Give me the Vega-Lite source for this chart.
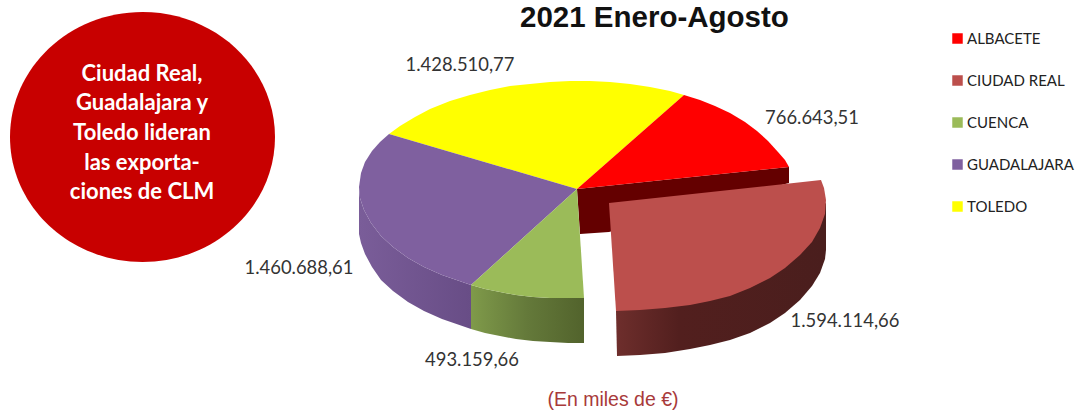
{
"$schema":"https://vega.github.io/schema/vega-lite/v6.json",
"width":1080,"height":410,"padding":0,"autosize":{"type":"none"},
"background":"white",
"view":{"stroke":null},
"config":{"view":{"stroke":null}},
"title":{"text":"2021 Enero-Agosto","anchor":"start","frame":"group","orient":"top","offset":-33,"dx":520,"font":"Liberation Sans","fontWeight":"bold","fontSize":29.5,"color":"#111111"},
"datasets":{
"pie":[
{"pieza":"lado_g","i":1,"x":359,"y":187},{"pieza":"lado_g","i":2,"x":360,"y":198},{"pieza":"lado_g","i":3,"x":364,"y":210},{"pieza":"lado_g","i":4,"x":371,"y":223},{"pieza":"lado_g","i":5,"x":381,"y":236},{"pieza":"lado_g","i":6,"x":393,"y":247},{"pieza":"lado_g","i":7,"x":408,"y":258},{"pieza":"lado_g","i":8,"x":424,"y":267},{"pieza":"lado_g","i":9,"x":442,"y":275},{"pieza":"lado_g","i":10,"x":471,"y":285},{"pieza":"lado_g","i":11,"x":471,"y":329},{"pieza":"lado_g","i":12,"x":442,"y":319},{"pieza":"lado_g","i":13,"x":424,"y":311},{"pieza":"lado_g","i":14,"x":408,"y":302},{"pieza":"lado_g","i":15,"x":393,"y":291},{"pieza":"lado_g","i":16,"x":381,"y":280},{"pieza":"lado_g","i":17,"x":372,"y":267},{"pieza":"lado_g","i":18,"x":365,"y":254},{"pieza":"lado_g","i":19,"x":361,"y":243},{"pieza":"lado_g","i":20,"x":359,"y":234},
{"pieza":"lado_c","i":1,"x":471,"y":285},{"pieza":"lado_c","i":2,"x":485,"y":289},{"pieza":"lado_c","i":3,"x":500,"y":292},{"pieza":"lado_c","i":4,"x":516,"y":295},{"pieza":"lado_c","i":5,"x":533,"y":297},{"pieza":"lado_c","i":6,"x":550,"y":298},{"pieza":"lado_c","i":7,"x":584,"y":298},{"pieza":"lado_c","i":8,"x":584,"y":343},{"pieza":"lado_c","i":9,"x":568,"y":343},{"pieza":"lado_c","i":10,"x":550,"y":342},{"pieza":"lado_c","i":11,"x":533,"y":341},{"pieza":"lado_c","i":12,"x":516,"y":339},{"pieza":"lado_c","i":13,"x":500,"y":336},{"pieza":"lado_c","i":14,"x":485,"y":333},{"pieza":"lado_c","i":15,"x":471,"y":329},
{"pieza":"lado_a","i":1,"x":577,"y":189},{"pieza":"lado_a","i":2,"x":789,"y":167},{"pieza":"lado_a","i":3,"x":789,"y":183},{"pieza":"lado_a","i":4,"x":609,"y":232},{"pieza":"lado_a","i":5,"x":580,"y":234},
{"pieza":"lado_r","i":1,"x":826,"y":203},{"pieza":"lado_r","i":2,"x":826,"y":250},{"pieza":"lado_r","i":3,"x":825,"y":259},{"pieza":"lado_r","i":4,"x":820,"y":273},{"pieza":"lado_r","i":5,"x":812,"y":286},{"pieza":"lado_r","i":6,"x":800,"y":300},{"pieza":"lado_r","i":7,"x":785,"y":313},{"pieza":"lado_r","i":8,"x":770,"y":323},{"pieza":"lado_r","i":9,"x":750,"y":333},{"pieza":"lado_r","i":10,"x":730,"y":340},{"pieza":"lado_r","i":11,"x":710,"y":345},{"pieza":"lado_r","i":12,"x":690,"y":349},{"pieza":"lado_r","i":13,"x":665,"y":353},{"pieza":"lado_r","i":14,"x":640,"y":355},{"pieza":"lado_r","i":15,"x":617,"y":356},{"pieza":"lado_r","i":16,"x":616,"y":311},
{"pieza":"TOLEDO","i":1,"x":577,"y":189},{"pieza":"TOLEDO","i":2,"x":389,"y":134},{"pieza":"TOLEDO","i":3,"x":400,"y":126},{"pieza":"TOLEDO","i":4,"x":415,"y":117},{"pieza":"TOLEDO","i":5,"x":430,"y":109},{"pieza":"TOLEDO","i":6,"x":450,"y":101},{"pieza":"TOLEDO","i":7,"x":470,"y":95},{"pieza":"TOLEDO","i":8,"x":490,"y":90},{"pieza":"TOLEDO","i":9,"x":510,"y":86},{"pieza":"TOLEDO","i":10,"x":530,"y":84},{"pieza":"TOLEDO","i":11,"x":550,"y":82},{"pieza":"TOLEDO","i":12,"x":570,"y":81},{"pieza":"TOLEDO","i":13,"x":590,"y":81},{"pieza":"TOLEDO","i":14,"x":610,"y":82},{"pieza":"TOLEDO","i":15,"x":630,"y":84},{"pieza":"TOLEDO","i":16,"x":650,"y":87},{"pieza":"TOLEDO","i":17,"x":670,"y":91},{"pieza":"TOLEDO","i":18,"x":684,"y":95},
{"pieza":"ALBACETE","i":1,"x":577,"y":189},{"pieza":"ALBACETE","i":2,"x":684,"y":95},{"pieza":"ALBACETE","i":3,"x":700,"y":100},{"pieza":"ALBACETE","i":4,"x":715,"y":106},{"pieza":"ALBACETE","i":5,"x":730,"y":113},{"pieza":"ALBACETE","i":6,"x":745,"y":122},{"pieza":"ALBACETE","i":7,"x":757,"y":131},{"pieza":"ALBACETE","i":8,"x":768,"y":141},{"pieza":"ALBACETE","i":9,"x":778,"y":152},{"pieza":"ALBACETE","i":10,"x":785,"y":160},{"pieza":"ALBACETE","i":11,"x":789,"y":167},
{"pieza":"GUADALAJARA","i":1,"x":577,"y":189},{"pieza":"GUADALAJARA","i":2,"x":389,"y":134},{"pieza":"GUADALAJARA","i":3,"x":380,"y":142},{"pieza":"GUADALAJARA","i":4,"x":372,"y":151},{"pieza":"GUADALAJARA","i":5,"x":365,"y":162},{"pieza":"GUADALAJARA","i":6,"x":361,"y":173},{"pieza":"GUADALAJARA","i":7,"x":359,"y":187},{"pieza":"GUADALAJARA","i":8,"x":360,"y":198},{"pieza":"GUADALAJARA","i":9,"x":364,"y":210},{"pieza":"GUADALAJARA","i":10,"x":371,"y":223},{"pieza":"GUADALAJARA","i":11,"x":381,"y":236},{"pieza":"GUADALAJARA","i":12,"x":393,"y":247},{"pieza":"GUADALAJARA","i":13,"x":408,"y":258},{"pieza":"GUADALAJARA","i":14,"x":424,"y":267},{"pieza":"GUADALAJARA","i":15,"x":442,"y":275},{"pieza":"GUADALAJARA","i":16,"x":471,"y":285},
{"pieza":"CUENCA","i":1,"x":577,"y":189},{"pieza":"CUENCA","i":2,"x":471,"y":285},{"pieza":"CUENCA","i":3,"x":485,"y":289},{"pieza":"CUENCA","i":4,"x":500,"y":292},{"pieza":"CUENCA","i":5,"x":516,"y":295},{"pieza":"CUENCA","i":6,"x":533,"y":297},{"pieza":"CUENCA","i":7,"x":550,"y":298},{"pieza":"CUENCA","i":8,"x":584,"y":298},
{"pieza":"CIUDAD REAL","i":1,"x":609,"y":203},{"pieza":"CIUDAD REAL","i":2,"x":821,"y":180},{"pieza":"CIUDAD REAL","i":3,"x":824,"y":188},{"pieza":"CIUDAD REAL","i":4,"x":826,"y":200},{"pieza":"CIUDAD REAL","i":5,"x":825,"y":214},{"pieza":"CIUDAD REAL","i":6,"x":820,"y":228},{"pieza":"CIUDAD REAL","i":7,"x":812,"y":242},{"pieza":"CIUDAD REAL","i":8,"x":800,"y":255},{"pieza":"CIUDAD REAL","i":9,"x":785,"y":268},{"pieza":"CIUDAD REAL","i":10,"x":770,"y":278},{"pieza":"CIUDAD REAL","i":11,"x":750,"y":288},{"pieza":"CIUDAD REAL","i":12,"x":730,"y":296},{"pieza":"CIUDAD REAL","i":13,"x":710,"y":301},{"pieza":"CIUDAD REAL","i":14,"x":690,"y":305},{"pieza":"CIUDAD REAL","i":15,"x":665,"y":308},{"pieza":"CIUDAD REAL","i":16,"x":640,"y":310},{"pieza":"CIUDAD REAL","i":17,"x":616,"y":311}
],
"valores":[
{"provincia":"ALBACETE","valor":766643.51,"etiqueta":"766.643,51","x":812,"y":118},
{"provincia":"CIUDAD REAL","valor":1594114.66,"etiqueta":"1.594.114,66","x":845,"y":321},
{"provincia":"CUENCA","valor":493159.66,"etiqueta":"493.159,66","x":472,"y":360},
{"provincia":"GUADALAJARA","valor":1460688.61,"etiqueta":"1.460.688,61","x":299,"y":268},
{"provincia":"TOLEDO","valor":1428510.77,"etiqueta":"1.428.510,77","x":460,"y":65}
],
"circulo":[
{"texto":"Ciudad Real,","x":142,"y":74},{"texto":"Guadalajara y","x":142,"y":103},{"texto":"Toledo lideran","x":142,"y":133},{"texto":"las exporta-","x":142,"y":163},{"texto":"ciones de CLM","x":142,"y":192}
]
},
"encoding":{
"x":{"field":"x","type":"quantitative","scale":{"domain":[0,1080],"nice":false,"zero":false},"axis":null},
"y":{"field":"y","type":"quantitative","scale":{"domain":[410,0],"nice":false,"zero":false},"axis":null}
},
"layer":[
{"data":{"values":[{"x":142.5,"y":137}]},"mark":{"type":"point","filled":true,"opacity":1,"fill":"#c80000","stroke":null,"size":70225,"shape":"M-1,0A1,0.943,0,1,1,1,0A1,0.943,0,1,1,-1,0Z"}},
{"data":{"name":"circulo"},"mark":{"type":"text","font":"Lato","fontWeight":"bold","fontSize":22,"color":"white","align":"center","baseline":"middle"},"encoding":{"text":{"field":"texto"}}},
{"data":{"name":"pie"},"transform":[{"filter":"datum.pieza==='lado_g'"}],"mark":{"type":"line","strokeWidth":0,"fill":{"gradient":"linear","x1":0,"x2":1,"y1":0,"y2":0,"stops":[{"offset":0,"color":"#7a5d99"},{"offset":1,"color":"#684d86"}]}},"encoding":{"order":{"field":"i"}}},
{"data":{"name":"pie"},"transform":[{"filter":"datum.pieza==='lado_c'"}],"mark":{"type":"line","strokeWidth":0,"fill":{"gradient":"linear","x1":0,"x2":1,"y1":0,"y2":0,"stops":[{"offset":0,"color":"#7f9a4a"},{"offset":0.5,"color":"#64793a"},{"offset":1,"color":"#52632c"}]}},"encoding":{"order":{"field":"i"}}},
{"data":{"name":"pie"},"transform":[{"filter":"datum.pieza==='lado_a'"}],"mark":{"type":"line","strokeWidth":0,"fill":"#640000"},"encoding":{"order":{"field":"i"}}},
{"data":{"name":"pie"},"transform":[{"filter":"datum.pieza==='lado_r'"}],"mark":{"type":"line","strokeWidth":0,"fill":{"gradient":"linear","x1":0,"x2":1,"y1":0,"y2":0,"stops":[{"offset":0,"color":"#6e2e2c"},{"offset":0.3,"color":"#521f1e"},{"offset":1,"color":"#4a1e1d"}]}},"encoding":{"order":{"field":"i"}}},
{"data":{"name":"pie"},"transform":[{"filter":"indexof(['ALBACETE','CIUDAD REAL','CUENCA','GUADALAJARA','TOLEDO'],datum.pieza)>=0"}],"mark":{"type":"line","strokeWidth":0},"encoding":{"order":{"field":"i"},"fill":{"field":"pieza","type":"nominal","scale":{"domain":["ALBACETE","CIUDAD REAL","CUENCA","GUADALAJARA","TOLEDO"],"range":["#ff0000","#bc4f4c","#9bbb59","#7f609f","#ffff00"]},"legend":{"title":null,"orient":"none","legendX":950,"legendY":31,"symbolType":"square","symbolSize":110,"symbolStrokeWidth":0,"labelFont":"Lato","labelFontSize":15,"labelColor":"#222222","rowPadding":26,"labelOffset":2}}}},
{"data":{"name":"valores"},"mark":{"type":"text","font":"Lato","fontSize":18.4,"color":"#333333","align":"center","baseline":"middle"},"encoding":{"text":{"field":"etiqueta"}}},
{"data":{"values":[{"texto":"(En miles de €)","x":613,"y":400}]},"mark":{"type":"text","font":"Liberation Sans","fontSize":19.5,"color":"#a83a3a","align":"center","baseline":"middle"},"encoding":{"text":{"field":"texto"}}}
]
}
